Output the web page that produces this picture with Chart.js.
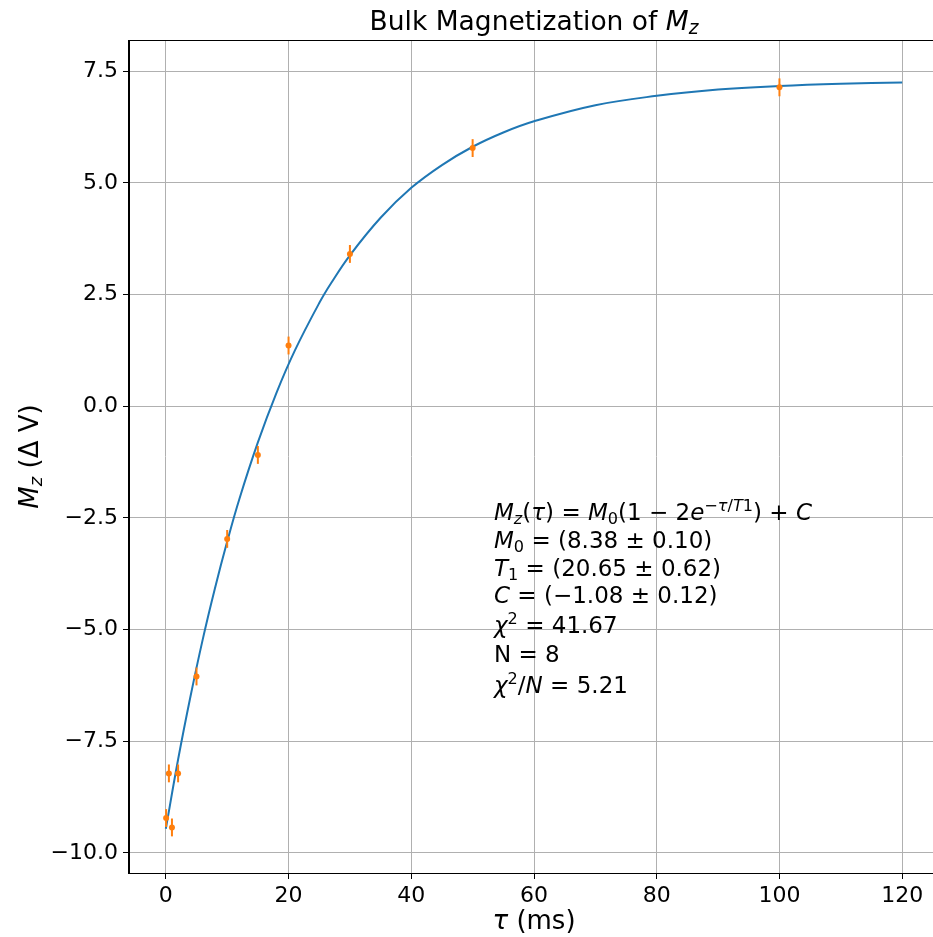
<!DOCTYPE html>
<html>
<head>
<meta charset="utf-8">
<script src="https://cdn.jsdelivr.net/npm/chart.js@4.4.1/dist/chart.umd.min.js"></script>
<style>
  html, body { margin: 0; padding: 0; background: #fff; overflow: hidden; }
  #wrap { width: 943px; height: 937px; }
</style>
</head>
<body>
<div id="wrap"><canvas id="chart" width="943" height="937"></canvas></div>
<script>
// measured points (tau in ms, Mz in delta V)
const tauData = [0.05, 0.5, 1, 2, 5, 10, 15, 20, 30, 50, 100];
const mzData = [-9.22, -8.22, -9.43, -8.22, -6.05, -2.97, -1.09, 1.36, 3.41, 5.78, 7.14];
const mzErr = [0.2, 0.2, 0.2, 0.2, 0.2, 0.2, 0.2, 0.2, 0.2, 0.2, 0.2];

// fit curve
const fitTau = [0, 2, 4, 6, 8, 10, 12, 15, 18, 21, 25, 27, 30, 35, 40, 45, 50, 55, 60, 70, 80, 90, 100, 110, 120];
const fitMz = [-9.46, -7.91, -6.51, -5.23, -4.08, -3.03, -2.07, -0.81, 0.29, 1.24, 2.31, 2.77, 3.38, 4.22, 4.89, 5.40, 5.81, 6.13, 6.38, 6.74, 6.95, 7.09, 7.17, 7.22, 7.25];

const xTicks = [0, 20, 40, 60, 80, 100, 120];
const yTicks = [-10.0, -7.5, -5.0, -2.5, 0.0, 2.5, 5.0, 7.5];

const FONT = "'DejaVu Sans'";

// draws text with italic / sub / sup pieces, like mathtext
function richText(ctx, x, y, segs, size, align) {
  const pieces = segs.map(([t, st]) => {
    st = st || '';
    let s = size, dy = 0;
    if (st.includes('b')) { s = size * 0.7; dy = size * 0.16; }
    if (st.includes('p')) { s = size * 0.7; dy = -size * 0.4; }
    const font = (st.includes('i') ? 'oblique ' : '') + s + 'px ' + FONT;
    ctx.font = font;
    return { t, font, dy, w: ctx.measureText(t).width };
  });
  const total = pieces.reduce((a, p) => a + p.w, 0);
  let cx = align === 'center' ? x - total / 2 : x;
  ctx.textBaseline = 'alphabetic';
  ctx.textAlign = 'left';
  pieces.forEach(p => {
    ctx.font = p.font;
    ctx.fillText(p.t, cx, y + p.dy);
    cx += p.w;
  });
}

const decorations = {
  id: 'decorations',
  afterDatasetsDraw(chart) {
    const { ctx, scales: { x, y } } = chart;
    ctx.save();
    ctx.strokeStyle = '#ff7f0e';
    ctx.lineWidth = 2;
    tauData.forEach((t, i) => {
      const px = x.getPixelForValue(t);
      ctx.beginPath();
      ctx.moveTo(px, y.getPixelForValue(mzData[i] - mzErr[i]));
      ctx.lineTo(px, y.getPixelForValue(mzData[i] + mzErr[i]));
      ctx.stroke();
    });
    ctx.restore();
  },
  afterDraw(chart) {
    const { ctx, chartArea: a } = chart;
    ctx.save();
    ctx.strokeStyle = '#000';
    ctx.lineWidth = 1;
    ctx.strokeRect(Math.round(a.left) - 0.5, Math.round(a.top) + 0.5, a.right - a.left, a.bottom - a.top);
    ctx.fillStyle = '#000';
    const cxm = (a.left + a.right) / 2;
    // title
    richText(ctx, cxm, 30, [['Bulk Magnetization of '], ['M', 'i'], ['z', 'ib']], 26.5, 'center');
    // x label
    richText(ctx, cxm, 929, [['τ', 'i'], [' (ms)']], 26, 'center');
    // y label
    ctx.save();
    ctx.translate(38, (a.top + a.bottom) / 2);
    ctx.rotate(-Math.PI / 2);
    richText(ctx, 0, 0, [['M', 'i'], ['z', 'ib'], [' (Δ V)']], 26, 'center');
    ctx.restore();
    // fit results
    const fs = 23, lx = 494;
    richText(ctx, lx, 520, [['M', 'i'], ['z', 'ib'], ['('], ['τ', 'i'], [') = '], ['M', 'i'], ['0', 'b'],
      ['(1 − 2'], ['e', 'i'], ['−', 'p'], ['τ', 'ip'], ['/', 'p'], ['T', 'ip'], ['1', 'p'], [') + '], ['C', 'i']], fs);
    richText(ctx, lx, 548, [['M', 'i'], ['0', 'b'], [' = (8.38 ± 0.10)']], fs);
    richText(ctx, lx, 576, [['T', 'i'], ['1', 'b'], [' = (20.65 ± 0.62)']], fs);
    richText(ctx, lx, 603, [['C', 'i'], [' = (−1.08 ± 0.12)']], fs);
    richText(ctx, lx, 633, [['χ', 'i'], ['2', 'p'], [' = 41.67']], fs);
    richText(ctx, lx, 662, [['N = 8']], fs);
    richText(ctx, lx, 693, [['χ', 'i'], ['2', 'p'], ['/'], ['N', 'i'], [' = 5.21']], fs);
    ctx.restore();
  }
};

new Chart(document.getElementById('chart'), {
  type: 'line',
  data: {
    datasets: [
      {
        label: 'fit',
        data: fitTau.map((t, i) => ({ x: t, y: fitMz[i] })),
        borderColor: '#1f77b4',
        borderWidth: 2,
        pointRadius: 0,
        fill: false,
        tension: 0.4,
        order: 2
      },
      {
        label: 'data',
        data: tauData.map((t, i) => ({ x: t, y: mzData[i] })),
        showLine: false,
        pointRadius: 3,
        pointBackgroundColor: '#ff7f0e',
        pointBorderColor: '#ff7f0e',
        pointBorderWidth: 0,
        order: 1
      }
    ]
  },
  options: {
    responsive: false,
    animation: false,
    devicePixelRatio: 1,
    layout: { padding: { top: 40, left: 0, right: 0, bottom: 0 } },
    plugins: { legend: { display: false }, title: { display: false }, tooltip: { enabled: false } },
    scales: {
      x: {
        type: 'linear',
        min: -6,
        max: 126,
        afterBuildTicks: s => { s.ticks = xTicks.map(v => ({ value: v })); },
        afterFit: s => { s.height = 64; },
        grid: { color: '#b0b0b0', lineWidth: 1, tickColor: '#000', tickLength: 6 },
        border: { display: true, color: '#000', width: 1 },
        ticks: {
          color: '#000',
          font: { family: FONT, size: 22 },
          padding: 4,
          maxRotation: 0,
          callback: v => String(v)
        }
      },
      y: {
        type: 'linear',
        min: -10.45,
        max: 8.2,
        afterBuildTicks: s => { s.ticks = yTicks.map(v => ({ value: v })); },
        afterFit: s => { s.width = 129; },
        grid: { color: '#b0b0b0', lineWidth: 1, tickColor: '#000', tickLength: 6 },
        border: { display: true, color: '#000', width: 1 },
        ticks: {
          color: '#000',
          font: { family: FONT, size: 22 },
          padding: 5,
          callback: v => v.toFixed(1).replace('-', '−')
        }
      }
    }
  },
  plugins: [decorations]
});
</script>
</body>
</html>
